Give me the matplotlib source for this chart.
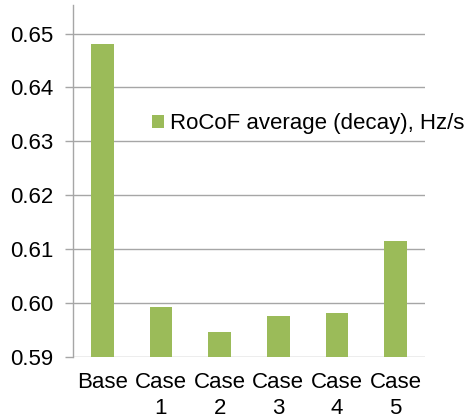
import matplotlib.pyplot as plt
import numpy as np

plt.rcParams['font.family'] = ['Liberation Sans', 'DejaVu Sans']

cases = ['Base', 'Case\n1', 'Case\n2', 'Case\n3', 'Case\n4', 'Case\n5']
rocof_avg = [0.6481, 0.5992, 0.5945, 0.5975, 0.5981, 0.6114]

y_min = 0.59
y_max = 0.6553
y_ticks = [0.59, 0.60, 0.61, 0.62, 0.63, 0.64, 0.65]

bar_color = '#9BBB59'
grid_color = '#a6a6a6'

fig = plt.figure(figsize=(4.69, 4.18), dpi=100)
ax = fig.add_axes([0.1557, 0.1467, 0.906 - 0.1557, 0.988 - 0.1467])

x = np.arange(len(cases))
ax.bar(x, rocof_avg, width=0.385, color=bar_color, zorder=3,
       label='RoCoF average (decay), Hz/s')

ax.set_xlim(-0.5, len(cases) - 0.5)
ax.set_ylim(y_min, y_max)
ax.set_yticks(y_ticks)
ax.set_yticklabels([f'{t:.2f}' for t in y_ticks])
ax.set_xticks(x)
ax.set_xticklabels(cases, linespacing=1.3)

ax.yaxis.grid(True, color=grid_color, lw=1, zorder=0)
for side in ['top', 'right', 'bottom']:
  ax.spines[side].set_visible(False)
ax.spines['left'].set_color(grid_color)
ax.spines['left'].set_linewidth(1)

ax.tick_params(axis='y', length=6, width=1, color=grid_color, labelsize=16, pad=8)
ax.tick_params(axis='x', length=0, labelsize=16, pad=11)

ax.legend(loc='center left', bbox_to_anchor=(152 / 469, 1 - 124 / 418),
          bbox_transform=fig.transFigure, frameon=False, fontsize=16,
          handlelength=0.55, handleheight=0.55, handletextpad=0.25,
          borderpad=0, borderaxespad=0)

plt.savefig('out.png', dpi=100)
